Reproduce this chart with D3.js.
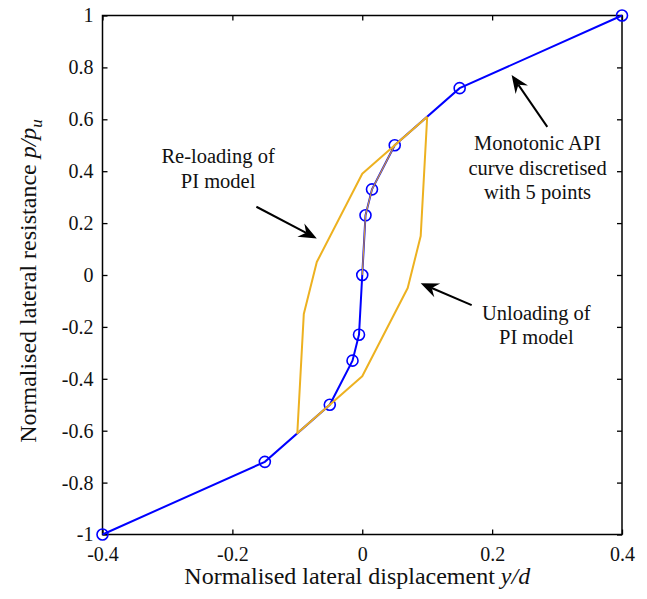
<!DOCTYPE html>
<html>
<head>
<meta charset="utf-8">
<script src="https://cdn.jsdelivr.net/npm/d3@7/dist/d3.min.js"></script>
<style>
  html, body { margin: 0; padding: 0; background: #fff; }
  svg { display: block; font-family: "Liberation Serif", "Times New Roman", serif; }
</style>
</head>
<body>
<div id="chart"></div>
<script>
// ---- data ----
// monotonic API backbone, discretised
const apiX = [-0.4, -0.15, -0.05, -0.015, -0.005, 0, 0.005, 0.015, 0.05, 0.15, 0.4]
const apiY = [-1, -0.72, -0.5, -0.33, -0.23, 0, 0.23, 0.33, 0.5, 0.72, 1]

// PI model: initial loading along backbone
const piInitX = [0, 0.005, 0.015, 0.05, 0.1]
const piInitY = [0, 0.23, 0.33, 0.5, 0.61]
// PI model: unloading then re-loading loop
const piLoopX = [0.1, 0.09, 0.07, 0, -0.1, -0.09, -0.07, 0, 0.1]
const piLoopY = [0.61, 0.15, -0.05, -0.39, -0.61, -0.15, 0.05, 0.39, 0.61]

const xTicks = [-0.4, -0.2, 0, 0.2, 0.4]
const yTicks = [-1, -0.8, -0.6, -0.4, -0.2, 0, 0.2, 0.4, 0.6, 0.8, 1]

// annotations (data units)
const notes = [
  { lines: ['Re-loading of', 'PI model'], x: -0.222, y: [0.432, 0.335], from: [-0.163, 0.263], to: [-0.070, 0.141] },
  { lines: ['Monotonic API', 'curve discretised', 'with 5 points'], x: 0.27, y: [0.482, 0.385, 0.292], from: [0.285, 0.571], to: [0.230, 0.771] },
  { lines: ['Unloading of', 'PI model'], x: 0.268, y: [-0.173, -0.266], from: [0.1685, -0.116], to: [0.090, -0.032] }
]

const W = 647, H = 599
const margin = { top: 15.5, right: 25, bottom: 64.5, left: 102.5 }
const BLUE = '#0000ff', ORANGE = '#EDB120'

const svg = d3.select('#chart').append('svg')
  .attr('width', W).attr('height', H)

const x = d3.scaleLinear().domain([-0.4, 0.4]).range([margin.left, W - margin.right])
const y = d3.scaleLinear().domain([-1, 1]).range([H - margin.bottom, margin.top])

const fmt = d => d === 0 ? '0' : String(d)
const tickLen = 5

function styleAxis(g, noLabels) {
  g.select('.domain').remove()
  g.selectAll('.tick line').attr('stroke', '#000').attr('stroke-width', 1.3)
  g.selectAll('.tick text')
    .attr('fill', '#111').attr('font-size', '20px')
    .attr('font-family', '"Liberation Serif", serif')
  if (noLabels) g.selectAll('.tick text').remove()
}

// axes with inward ticks on all four sides
svg.append('g')
  .attr('transform', `translate(0,${y(-1)})`)
  .call(d3.axisBottom(x).tickValues(xTicks).tickFormat(fmt).tickSizeInner(-tickLen).tickPadding(12))
  .call(g => styleAxis(g, false))

svg.append('g')
  .attr('transform', `translate(0,${y(1)})`)
  .call(d3.axisTop(x).tickValues(xTicks).tickSizeInner(-tickLen))
  .call(g => styleAxis(g, true))

svg.append('g')
  .attr('transform', `translate(${x(-0.4)},0)`)
  .call(d3.axisLeft(y).tickValues(yTicks).tickFormat(fmt).tickSizeInner(-tickLen).tickPadding(9))
  .call(g => styleAxis(g, false))

svg.append('g')
  .attr('transform', `translate(${x(0.4)},0)`)
  .call(d3.axisRight(y).tickValues(yTicks).tickSizeInner(-tickLen))
  .call(g => styleAxis(g, true))

// frame
svg.append('rect')
  .attr('x', x(-0.4)).attr('y', y(1))
  .attr('width', x(0.4) - x(-0.4)).attr('height', y(-1) - y(1))
  .attr('fill', 'none').attr('stroke', '#000').attr('stroke-width', 1.5)

const line = d3.line().x(d => x(d[0])).y(d => y(d[1]))

// API backbone
const api = apiX.map((v, i) => [v, apiY[i]])
svg.append('path').datum(api)
  .attr('d', line).attr('fill', 'none')
  .attr('stroke', BLUE).attr('stroke-width', 2)

svg.append('g').selectAll('circle')
  .data(api).join('circle')
  .attr('cx', d => x(d[0])).attr('cy', d => y(d[1]))
  .attr('r', 5.5)
  .attr('fill', 'none').attr('stroke', BLUE).attr('stroke-width', 1.6)

// PI model
svg.append('path').datum(piInitX.map((v, i) => [v, piInitY[i]]))
  .attr('d', line).attr('fill', 'none')
  .attr('stroke', ORANGE).attr('stroke-width', 1.2).attr('opacity', 0.85)

svg.append('path').datum(piLoopX.map((v, i) => [v, piLoopY[i]]))
  .attr('d', line).attr('fill', 'none')
  .attr('stroke', ORANGE).attr('stroke-width', 2).attr('stroke-linejoin', 'round')

// annotations
notes.forEach(n => {
  n.lines.forEach((t, i) => {
    svg.append('text')
      .attr('x', x(n.x)).attr('y', y(n.y[i]))
      .attr('text-anchor', 'middle')
      .attr('font-size', '20.5px').attr('fill', '#111')
      .text(t)
  })
  const x0 = x(n.from[0]), y0 = y(n.from[1])
  const x1 = x(n.to[0]), y1 = y(n.to[1])
  const ang = Math.atan2(y1 - y0, x1 - x0)
  const headLen = 18, headW = 7.5, notch = 12
  const bx = x1 - headLen * Math.cos(ang), by = y1 - headLen * Math.sin(ang)
  const nx = x1 - notch * Math.cos(ang), ny = y1 - notch * Math.sin(ang)
  const px = -Math.sin(ang), py = Math.cos(ang)
  svg.append('line')
    .attr('x1', x0).attr('y1', y0).attr('x2', nx).attr('y2', ny)
    .attr('stroke', '#000').attr('stroke-width', 2)
  svg.append('path')
    .attr('d', `M${x1},${y1}L${bx + px * headW},${by + py * headW}L${nx},${ny}L${bx - px * headW},${by - py * headW}Z`)
    .attr('fill', '#000')
})

// axis titles
const xt = svg.append('text')
  .attr('x', (x(-0.4) + x(0.4)) / 2 - 5).attr('y', 584)
  .attr('text-anchor', 'middle').attr('font-size', '24px').attr('fill', '#111')
xt.append('tspan').text('Normalised lateral displacement ')
xt.append('tspan').attr('font-style', 'italic').text('y/d')

const yt = svg.append('text')
  .attr('transform', `translate(36,${(y(1) + y(-1)) / 2 + 6}) rotate(-90)`)
  .attr('text-anchor', 'middle').attr('font-size', '24px').attr('fill', '#111')
yt.append('tspan').text('Normalised lateral resistance ')
yt.append('tspan').attr('font-style', 'italic').text('p/p')
yt.append('tspan').attr('font-style', 'italic').attr('font-size', '17px').attr('dy', 6).text('u')
</script>
</body>
</html>
